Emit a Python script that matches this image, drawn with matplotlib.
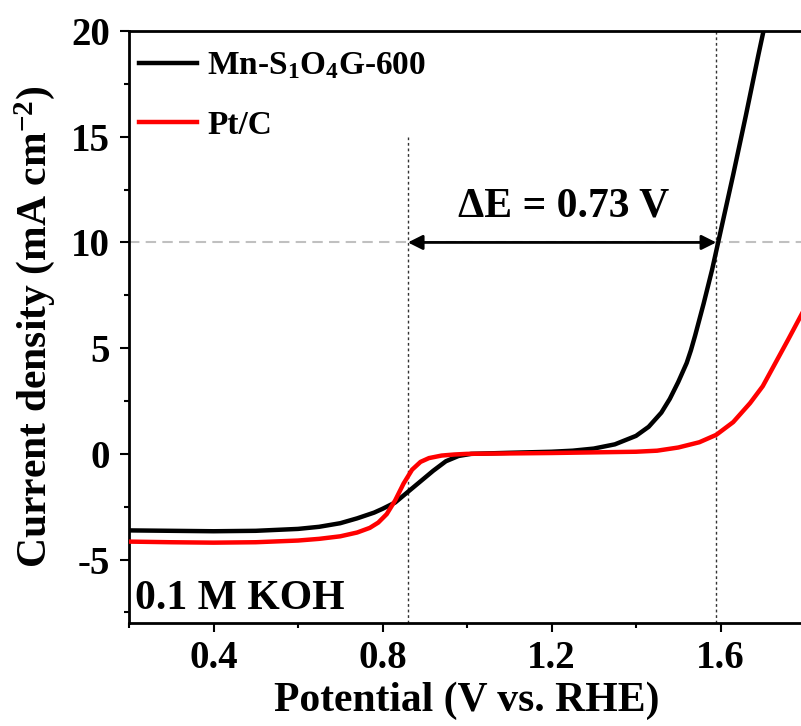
import matplotlib
matplotlib.use("Agg")
import matplotlib.pyplot as plt
from matplotlib.ticker import MultipleLocator

plt.rcParams['font.family'] = ['Liberation Serif', 'DejaVu Serif']
plt.rcParams['font.weight'] = 'bold'
plt.rcParams['mathtext.fontset'] = 'custom'
plt.rcParams['mathtext.rm'] = 'Liberation Serif:bold'
plt.rcParams['mathtext.bf'] = 'Liberation Serif:bold'
plt.rcParams['mathtext.it'] = 'Liberation Serif:bold'
plt.rcParams['mathtext.default'] = 'bf'
plt.rcParams['axes.unicode_minus'] = False

# Mn-S1O4G-600 LSV curve
v_mn = [0.20, 0.30, 0.40, 0.50, 0.60, 0.65, 0.70, 0.74, 0.78, 0.80, 0.83, 0.86, 0.89,
        0.92, 0.95, 0.98, 1.01, 1.10, 1.20, 1.25, 1.30, 1.35, 1.40, 1.43, 1.46, 1.48,
        1.50, 1.52, 1.53, 1.54, 1.56, 1.57, 1.58, 1.60, 1.63, 1.66, 1.69, 1.72]
j_mn = [-3.62, -3.64, -3.66, -3.64, -3.55, -3.45, -3.28, -3.05, -2.78, -2.6, -2.3, -1.8, -1.3,
        -0.8, -0.35, -0.1, 0.0, 0.05, 0.1, 0.15, 0.25, 0.45, 0.85, 1.28, 1.95, 2.6,
        3.4, 4.3, 4.9, 5.6, 7.1, 7.9, 8.7, 10.5, 13.2, 16.0, 18.9, 21.7]

# Pt/C LSV curve
v_pt = [0.20, 0.30, 0.40, 0.50, 0.60, 0.65, 0.70, 0.74, 0.77, 0.79, 0.81, 0.83, 0.85,
        0.87, 0.89, 0.91, 0.94, 0.97, 1.00, 1.20, 1.40, 1.45, 1.50, 1.55, 1.59, 1.63,
        1.67, 1.70, 1.73, 1.76, 1.80]
j_pt = [-4.15, -4.18, -4.2, -4.18, -4.1, -4.02, -3.9, -3.72, -3.5, -3.25, -2.85, -2.2, -1.4,
        -0.75, -0.38, -0.2, -0.08, -0.03, 0.0, 0.04, 0.1, 0.15, 0.3, 0.55, 0.9, 1.5,
        2.4, 3.2, 4.3, 5.4, 6.9]

e_pt = 0.86
e_mn = 1.59
j_ref = 10

fig = plt.figure(figsize=(8.01, 7.26), dpi=100)
ax = fig.add_axes([129 / 801, 1 - 623 / 726, 676 / 801, 592 / 726])

ax.axhline(j_ref, color='#c0c0c0', lw=1.5, ls=(0, (5, 3)), zorder=1)
ax.plot([e_pt, e_pt], [-8, 15], color='#333333', lw=1, ls=(0, (2, 2)), zorder=1)
ax.plot([e_mn, e_mn], [-8, 20], color='#333333', lw=1, ls=(0, (2, 2)), zorder=1)

ax.plot(v_mn, j_mn, color='black', lw=3.2, label='Mn-S$_1$O$_4$G-600', zorder=3)
ax.plot(v_pt, j_pt, color='#ff0000', lw=3.2, label='Pt/C', zorder=3)

ax.annotate('', xy=(e_mn, j_ref), xytext=(e_pt, j_ref),
            arrowprops=dict(arrowstyle='<|-|>', color='black', lw=2, mutation_scale=22,
                            shrinkA=0, shrinkB=0), zorder=4)
ax.text(1.228, 11.7, '\u0394E = 0.73 V', fontsize=30, fontweight='bold', ha='center', va='center')
ax.text(0.215, -6.85, '0.1 M KOH', fontsize=30, fontweight='bold', ha='left', va='center')

ax.set_xlim(0.2, 1.8)
ax.set_ylim(-8, 20)
ax.xaxis.set_major_locator(MultipleLocator(0.4))
ax.xaxis.set_minor_locator(MultipleLocator(0.2))
ax.yaxis.set_major_locator(MultipleLocator(5))
ax.yaxis.set_minor_locator(MultipleLocator(2.5))
ax.tick_params(which='major', direction='out', length=6.5, width=1.5, labelsize=28, pad=7)
ax.tick_params(which='minor', direction='out', length=3.5, width=1.5)
ax.tick_params(axis='x', pad=6)
for s in ax.spines.values():
    s.set_linewidth(2)

ax.set_xlabel('Potential (V vs. RHE)', fontsize=30, fontweight='bold', labelpad=3)
ax.set_ylabel('Current density (mA cm$^{-2}$)', fontsize=30, fontweight='bold', labelpad=10)

ax.legend(loc='upper left', frameon=False, fontsize=24, handlelength=1.75,
          handletextpad=0.3, labelspacing=0.85, borderaxespad=0.0, bbox_to_anchor=(-0.005, 0.99))

fig.savefig('out.png', dpi=100)
